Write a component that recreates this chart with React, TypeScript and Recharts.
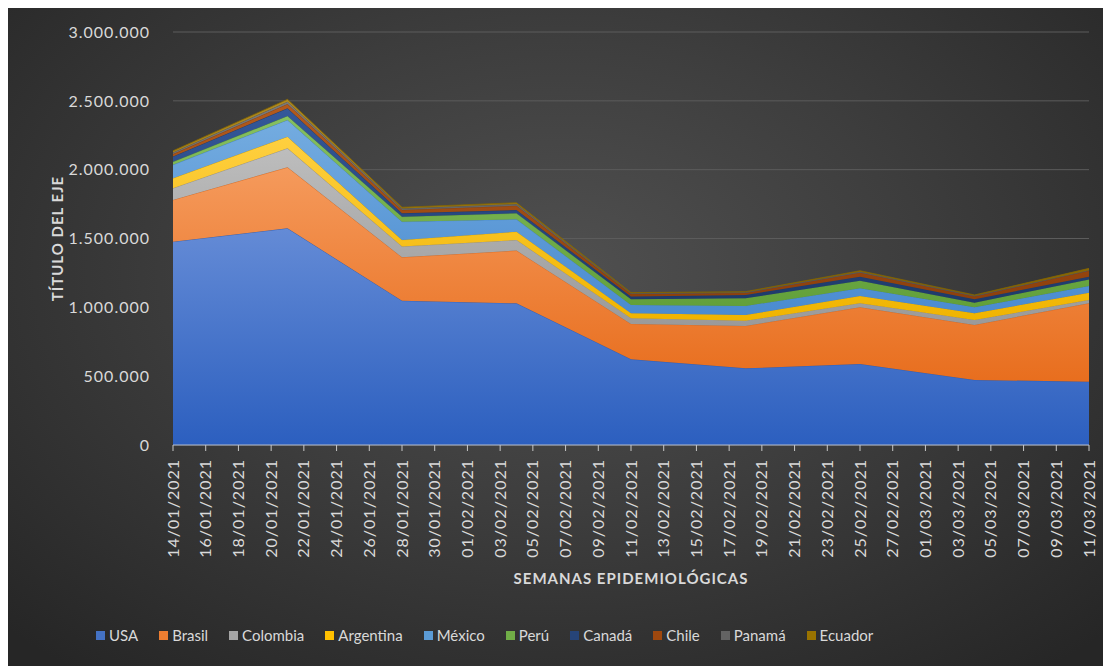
import { Area, AreaChart, CartesianGrid, Legend, XAxis, YAxis } from "recharts";

// weekly points (Excel date axis, 2-day major unit)
const weeks = [
  "14/01/2021", "21/01/2021", "28/01/2021", "04/02/2021", "11/02/2021",
  "18/02/2021", "25/02/2021", "04/03/2021", "11/03/2021",
];

const usa = [1477000, 1574000, 1048000, 1029000, 622000, 557000, 588000, 472000, 460000];
const brasil = [303000, 443000, 315000, 383000, 257000, 307000, 412000, 400000, 569000];
const colombia = [85000, 138000, 78000, 77000, 41000, 39000, 29000, 36000, 24000];
const argentina = [73000, 85000, 48000, 60000, 37000, 41000, 53000, 49000, 53000];
const mexico = [97000, 121000, 133000, 90000, 60000, 66000, 56000, 43000, 49000];
const peru = [22000, 29000, 36000, 44000, 41000, 56000, 56000, 34000, 48000];
const canada = [39000, 56000, 25000, 24000, 20000, 24000, 29000, 24000, 20000];
const chile = [17000, 31000, 24000, 31000, 18000, 14000, 29000, 21000, 42000];
const panama = [12000, 17000, 11000, 12000, 6000, 5000, 6000, 5000, 5000];
const ecuador = [12000, 17000, 9000, 10000, 5000, 5000, 8000, 6000, 13000];

const xTickLabels = [
  "14/01/2021", "16/01/2021", "18/01/2021", "20/01/2021", "22/01/2021", "24/01/2021",
  "26/01/2021", "28/01/2021", "30/01/2021", "01/02/2021", "03/02/2021", "05/02/2021",
  "07/02/2021", "09/02/2021", "11/02/2021", "13/02/2021", "15/02/2021", "17/02/2021",
  "19/02/2021", "21/02/2021", "23/02/2021", "25/02/2021", "27/02/2021", "01/03/2021",
  "03/03/2021", "05/03/2021", "07/03/2021", "09/03/2021", "11/03/2021",
];

const yTicks = [0, 500000, 1000000, 1500000, 2000000, 2500000, 3000000];

const series = [
  { key: "USA", values: usa, color: "#4472C4", top: "#648bd6", bottom: "#2c5fbf" },
  { key: "Brasil", values: brasil, color: "#ED7D31", top: "#f59a5c", bottom: "#e86e1e" },
  { key: "Colombia", values: colombia, color: "#A5A5A5", top: "#bdbdbd", bottom: "#9a9a9a" },
  { key: "Argentina", values: argentina, color: "#FFC000", top: "#ffd040", bottom: "#f0b400" },
  { key: "México", values: mexico, color: "#5B9BD5", top: "#74ace0", bottom: "#4a8bd0" },
  { key: "Perú", values: peru, color: "#70AD47", top: "#86c060", bottom: "#62a03a" },
  { key: "Canadá", values: canada, color: "#264478", top: "#34589a", bottom: "#1e3a6a" },
  { key: "Chile", values: chile, color: "#9E480E", top: "#b35a1c", bottom: "#8e400c" },
  { key: "Panamá", values: panama, color: "#636363", top: "#7a7a7a", bottom: "#555555" },
  { key: "Ecuador", values: ecuador, color: "#997300", top: "#b08a20", bottom: "#846400" },
];

const START = Date.UTC(2021, 0, 14);
function dayOf(s: string) {
  const [d, m, y] = s.split("/").map(Number);
  return Math.round((Date.UTC(y, m - 1, d) - START) / 86400000);
}
const labelByDay: Record<number, string> = {};
xTickLabels.forEach((l) => (labelByDay[dayOf(l)] = l));
const xTicks = xTickLabels.map(dayOf);

const data = weeks.map((w, i) => {
  const row: Record<string, number | string> = { day: dayOf(w), date: w };
  series.forEach((s) => (row[s.key] = s.values[i]));
  return row;
});

const fmt = (v: number) => String(v).replace(/\B(?=(\d{3})+(?!\d))/g, ".");

const TXT = "#d9d9d9";
const FONT = "Lato, 'Open Sans', sans-serif";

function DateTick({ x, y, payload }: any) {
  return (
    <text
      x={x}
      y={y}
      transform={`rotate(-90, ${x}, ${y})`}
      textAnchor="end"
      dy="0.35em"
      fill={TXT}
      fontSize={16}
      letterSpacing={1}
      fontFamily={FONT}
    >
      {labelByDay[payload.value]}
    </text>
  );
}

function LegendRow() {
  return (
    <div style={{ display: "flex", gap: 21, fontFamily: FONT, fontSize: 15, color: TXT, whiteSpace: "nowrap" }}>
      {series.map((s) => (
        <div key={s.key} style={{ display: "flex", alignItems: "center" }}>
          <span style={{ width: 9, height: 9, background: s.color, marginRight: 4, display: "inline-block" }} />
          <span>{s.key}</span>
        </div>
      ))}
    </div>
  );
}

export default function App() {
  return (
    <div
      style={{
        width: 1103,
        height: 658,
        background: "radial-gradient(ellipse 70% 78% at 50% 40%, #505050 0%, #3e3e3e 45%, #262626 100%)",
      }}
    >
      <AreaChart width={1103} height={658} data={data} margin={{ top: 24, right: 22, bottom: 81, left: 0 }}>
        <defs>
          {series.map((s, i) => (
            <linearGradient key={s.key} id={`g${i}`} x1="0" y1="0" x2="0" y2="1">
              <stop offset="0%" stopColor={s.top} />
              <stop offset="100%" stopColor={s.bottom} />
            </linearGradient>
          ))}
        </defs>
        <CartesianGrid stroke="#5c5c5c" vertical={false} />
        <XAxis
          dataKey="day"
          type="number"
          domain={[0, 56]}
          ticks={xTicks}
          interval={0}
          height={140}
          tick={<DateTick />}
          tickSize={6}
          tickMargin={8}
          tickLine={{ stroke: "#c8c8c8" }}
          axisLine={{ stroke: "#b4bccb" }}
          label={{
            content: ({ viewBox }: any) => (
              <text
                x={viewBox.x + viewBox.width / 2}
                y={viewBox.y + 133}
                textAnchor="middle"
                dominantBaseline="central"
                fill={TXT}
                fontSize={15}
                fontWeight={700}
                letterSpacing={1}
                fontFamily={FONT}
              >
                SEMANAS EPIDEMIOLÓGICAS
              </text>
            ),
          }}
        />
        <YAxis
          width={165}
          domain={[0, 3000000]}
          ticks={yTicks}
          interval={0}
          tickFormatter={fmt}
          tick={{ fill: TXT, fontSize: 16, fontFamily: FONT, letterSpacing: 1 }}
          tickLine={false}
          axisLine={false}
          tickSize={6}
          tickMargin={17}
          label={{
            content: ({ viewBox }: any) => {
              const cx = viewBox.x + 49;
              const cy = viewBox.y + viewBox.height / 2;
              return (
                <text
                  x={cx}
                  y={cy}
                  transform={`rotate(-90, ${cx}, ${cy})`}
                  textAnchor="middle"
                  dominantBaseline="central"
                  fill={TXT}
                  fontSize={15}
                  fontWeight={700}
                  letterSpacing={1}
                  fontFamily={FONT}
                >
                  TÍTULO DEL EJE
                </text>
              );
            },
          }}
        />
        {series.map((s, i) => (
          <Area
            key={s.key}
            type="linear"
            dataKey={s.key}
            stackId="1"
            fill={`url(#g${i})`}
            fillOpacity={1}
            stroke={s.bottom}
            strokeWidth={0.8}
            dot={false}
            activeDot={false}
            isAnimationActive={false}
          />
        ))}
        <Legend
          layout="vertical"
          align="center"
          verticalAlign="middle"
          wrapperStyle={{ left: 88, top: 618, width: "auto", height: "auto" }}
          content={() => <LegendRow />}
        />
      </AreaChart>
    </div>
  );
}
